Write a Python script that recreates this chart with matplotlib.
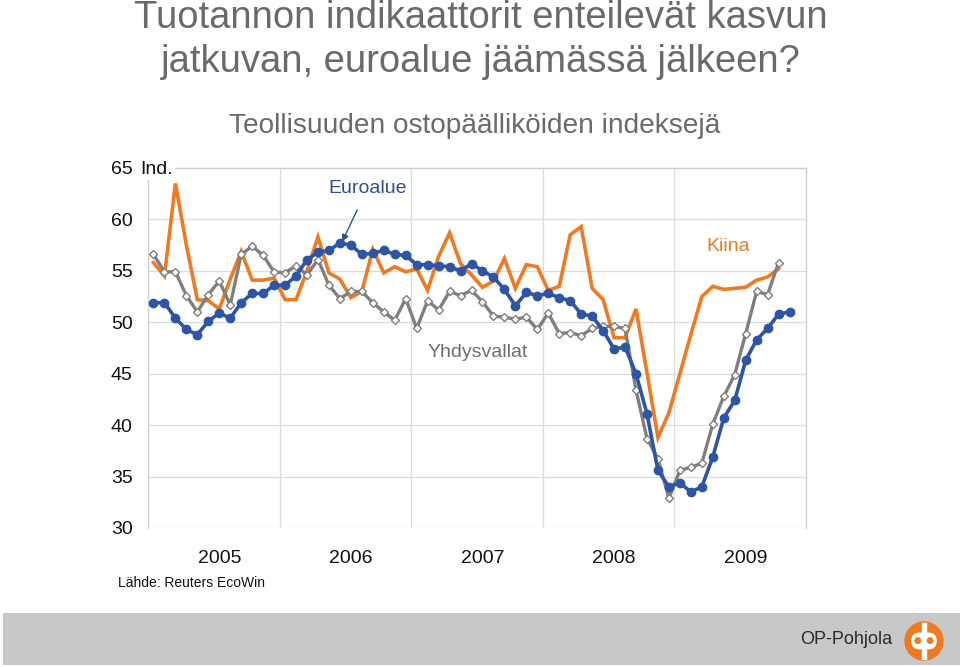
import matplotlib
matplotlib.use("Agg")
import matplotlib.pyplot as plt
import numpy as np
from matplotlib.patches import Rectangle, Circle, FancyBboxPatch

# ---------------- data (monthly, Jan 2005 onwards) ----------------
years = ["2005", "2006", "2007", "2008", "2009"]
y_ticks = [30, 35, 40, 45, 50, 55, 60, 65]

euro = [51.9, 51.9, 50.4, 49.3, 48.8, 50.1, 50.9, 50.4, 51.9, 52.8, 52.8, 53.6,
        53.6, 54.5, 56.1, 56.8, 57.0, 57.7, 57.5, 56.6, 56.7, 57.0, 56.6, 56.5,
        55.6, 55.6, 55.5, 55.4, 55.0, 55.7, 55.0, 54.4, 53.2, 51.6, 52.9, 52.6,
        52.8, 52.4, 52.1, 50.8, 50.6, 49.2, 47.4, 47.6, 45.0, 41.1, 35.6, 34.0,
        34.4, 33.5, 34.0, 36.9, 40.7, 42.4, 46.3, 48.3, 49.4, 50.8, 51.0]

usa = [56.6, 54.9, 54.9, 52.6, 51.0, 52.7, 54.0, 51.7, 56.6, 57.4, 56.5, 54.9,
       54.8, 55.5, 54.6, 56.1, 53.6, 52.3, 53.0, 53.0, 51.9, 51.0, 50.2, 52.3,
       49.4, 52.1, 51.2, 53.0, 52.6, 53.1, 52.0, 50.6, 50.5, 50.3, 50.5, 49.3,
       50.9, 48.9, 49.0, 48.7, 49.4, 49.6, 49.6, 49.4, 43.4, 38.7, 36.7, 32.9,
       35.6, 35.9, 36.3, 40.1, 42.8, 44.9, 48.9, 53.0, 52.7, 55.8]

china = [55.8, 54.5, 63.5, 57.5, 52.2, 52.1, 51.3, 54.2, 56.9, 54.1, 54.1, 54.3,
         52.2, 52.2, 55.0, 58.3, 54.8, 54.2, 52.4, 53.0, 57.1, 54.8, 55.4, 54.9,
         55.2, 53.1, 56.4, 58.7, 55.7, 54.6, 53.4, 54.0, 56.2, 53.3, 55.6, 55.4,
         53.1, 53.5, 58.5, 59.3, 53.3, 52.2, 48.5, 48.5, 51.3, 45.1, 38.8, 41.2,
         45.0, 48.8, 52.5, 53.5, 53.2, 53.3, 53.4, 54.1, 54.4, 55.2]

# ---------------- style ----------------
plt.rcParams['font.family'] = ['Liberation Sans', 'DejaVu Sans']

C_EURO = '#2E55A5'
C_CHINA = '#F07A22'
C_USA = '#7F7F7F'
C_TITLE = '#6A6A6A'
C_GRID = '#DCDCDC'

W, H = 960, 667
fig = plt.figure(figsize=(W / 100, H / 100), dpi=100)
fig.patch.set_facecolor('white')

ax = fig.add_axes([148 / W, (H - 528) / H, 658 / W, 360 / H])
ax.set_xlim(0, 60)
ax.set_ylim(30, 65)

x_c = np.arange(len(china)) + 0.5
x_u = np.arange(len(usa)) + 0.5
x_e = np.arange(len(euro)) + 0.5

ax.plot(x_c, china, color=C_CHINA, lw=2.6, solid_joinstyle='miter', zorder=3)
ax.plot(x_u, usa, color=C_USA, lw=2.4, marker='D', markersize=4.4,
        markerfacecolor='white', markeredgecolor=C_USA, markeredgewidth=1.0, zorder=4)
ax.plot(x_e, euro, color=C_EURO, lw=2.6, marker='o', markersize=6,
        markerfacecolor=C_EURO, markeredgecolor=C_EURO, zorder=5)

# grid & frame
ax.set_yticks(y_ticks)
ax.set_yticklabels([str(v) for v in y_ticks], fontsize=14, color='#111111')
ax.tick_params(axis='y', length=0, pad=11)
ax.set_xticks([6.5 + 12 * k for k in range(len(years))])
ax.set_xticklabels(years, fontsize=14, color='#111111')
ax.tick_params(axis='x', length=0, pad=16)
ax.set_xticks([12, 24, 36, 48], minor=True)
ax.tick_params(axis='x', which='minor', length=0)
ax.grid(axis='y', which='major', color=C_GRID, lw=0.9, zorder=0)
ax.grid(axis='x', which='minor', color=C_GRID, lw=0.9, zorder=0)
for s in ax.spines.values():
    s.set_color('#D0D0D0')
    s.set_linewidth(1.0)
ax.spines['bottom'].set_visible(False)

# annotations
ax.annotate('Euroalue', xy=(17.6, 57.6), xytext=(20, 63.0),
            textcoords='data', fontsize=14, color='#2F4F8F', ha='center', va='center',
            arrowprops=dict(arrowstyle='-|>', color='#2F4F8F', lw=1.0,
                            mutation_scale=10, shrinkA=8, shrinkB=2))
ax.text(52.9, 57.4, 'Kiina', fontsize=14, color=C_CHINA, ha='center', va='center')
ax.text(30.1, 47.1, 'Yhdysvallat', fontsize=14, color='#6E6E6E', ha='center', va='center')

# titles
fig.text(481 / W, 1 - 28 / H, 'Tuotannon indikaattorit enteilevät kasvun',
         fontsize=27.5, color=C_TITLE, ha='center', va='baseline')
fig.text(481 / W, 1 - 72 / H, 'jatkuvan, euroalue jäämässä jälkeen?',
         fontsize=27.5, color=C_TITLE, ha='center', va='baseline')
fig.text(475 / W, 1 - 133 / H, 'Teollisuuden ostopäälliköiden indeksejä',
         fontsize=20.2, color=C_TITLE, ha='center', va='baseline')

fig.text(140 / W, 1 - 169 / H, 'Ind.', fontsize=14, color='#111111', ha='left',
         va='center', bbox=dict(facecolor='white', edgecolor='none', pad=1.5))
fig.text(118 / W, 1 - 583 / H, 'Lähde: Reuters EcoWin', fontsize=10,
         color='#111111', ha='left', va='center')

# footer band
fig.patches.append(Rectangle((3 / W, (H - 665) / H), 1 - 3 / W, 52 / H,
                             transform=fig.transFigure, facecolor='#C8C8C8',
                             edgecolor='none', zorder=-5))
fig.text(846 / W, 1 - 640 / H, 'OP-Pohjola', fontsize=13, color='#2A2A2A',
         ha='center', va='center')

# logo
lax = fig.add_axes([904 / W, (H - 661) / H, 40 / W, 40 / H], zorder=5)
lax.set_xlim(-1, 1)
lax.set_ylim(-1, 1)
lax.set_aspect('equal')
lax.axis('off')
lax.add_patch(Circle((0, 0), 0.95, color=C_CHINA))
lax.add_patch(FancyBboxPatch((-0.64, -0.42), 1.28, 0.84,
                             boxstyle='round,pad=0.0,rounding_size=0.42',
                             facecolor='white', edgecolor='none'))
lax.add_patch(Rectangle((-0.11, -0.9), 0.22, 1.8, color='white'))
lax.add_patch(Circle((-0.31, 0.02), 0.14, color=C_CHINA))
lax.add_patch(Circle((0.31, 0.02), 0.14, color=C_CHINA))

fig.savefig('out.png', dpi=100)
